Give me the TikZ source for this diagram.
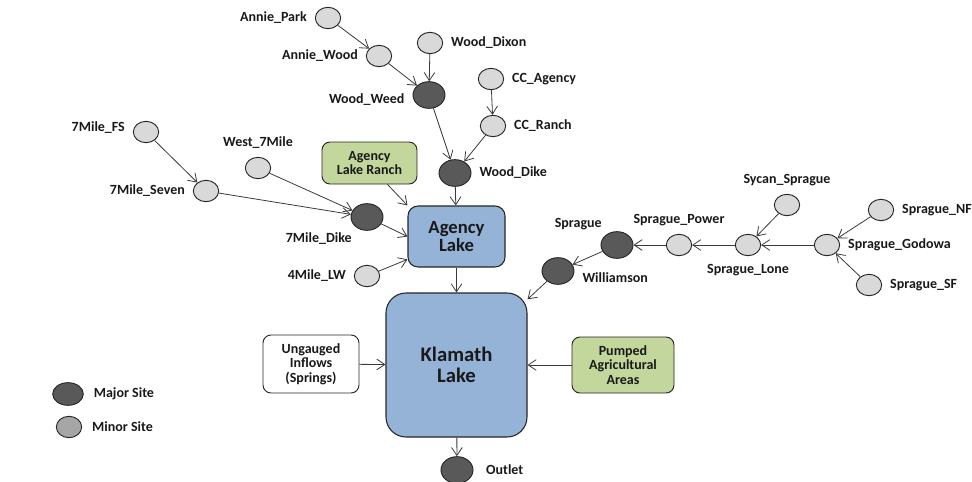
\documentclass[tikz,border=0pt]{standalone}
\usepackage{fontspec}
\setmainfont{Carlito}
\usepackage{xcolor}
\definecolor{MajorGray}{HTML}{595959}
\definecolor{MinorGray}{HTML}{D9D9D9}
\definecolor{KeyGray}{HTML}{A6A6A6}
\definecolor{EdgeGray}{HTML}{262626}
\definecolor{FlowGray}{HTML}{3A3A3A}
\definecolor{LakeBlue}{HTML}{95B3D7}
\definecolor{FarmGreen}{HTML}{C3D69B}
\usepackage{tikz}
\usetikzlibrary{arrows.meta, shapes.geometric}

\begin{document}
\begin{tikzpicture}[x=0.75pt, y=-0.75pt, label distance=2.5pt,
	every node/.style={font=\fontsize{10.5}{11}\selectfont\bfseries, text=black!90},
	major/.style={ellipse, draw=EdgeGray, fill=MajorGray, line width=0.7pt, minimum width=24pt, minimum height=20pt, inner sep=0pt},
	minor/.style={ellipse, draw=EdgeGray, fill=MinorGray, line width=0.7pt, minimum width=19pt, minimum height=16pt, inner sep=0pt},
	lakebox/.style={draw=EdgeGray, fill=LakeBlue, line width=0.8pt, align=center},
	inbox/.style={draw=EdgeGray, line width=0.7pt, rounded corners=6pt, align=center, minimum height=42pt},
	flow/.style={draw=FlowGray, line width=0.6pt, -{Straight Barb[length=6pt, width=8pt]}}]
	\useasboundingbox (0,0) rectangle (972,482);

	% lakes and boxes
	\node[lakebox, rounded corners=7.5pt, minimum width=72.75pt, minimum height=45.75pt, font=\fontsize{14}{14}\selectfont\bfseries] (agency) at (456.5,236.5) {Agency\\Lake};
	\node[lakebox, rounded corners=15pt, minimum width=105.75pt, minimum height=108pt, font=\fontsize{15.5}{16}\selectfont\bfseries] (klamath) at (456.5,365) {Klamath\\Lake};
	\node[inbox, fill=FarmGreen, minimum width=71.25pt, minimum height=31.5pt] (ranch) at (369.5,163) {Agency\\Lake Ranch};
	\node[inbox, fill=white, minimum width=72pt, minimum height=43.5pt] (ungauged) at (311,364) {Ungauged\\Inflows\\(Springs)};
	\node[inbox, fill=FarmGreen, minimum width=76.5pt] (pumped) at (623,365) {Pumped\\Agricultural\\Areas};

	% Wood River sites
	\node[minor, label=left:Annie\_Park] (anniepark) at (328,18) {};
	\node[minor, label=left:Annie\_Wood] (anniewood) at (379,56) {};
	\node[minor, label=right:Wood\_Dixon] (wooddixon) at (430,43) {};
	\node[major, label={[yshift=-3.5pt]left:Wood\_Weed}] (woodweed) at (429,95) {};
	\node[minor, label=right:CC\_Agency] (ccagency) at (491,79) {};
	\node[minor, label=right:CC\_Ranch] (ccranch) at (493,126) {};
	\node[major, label=right:Wood\_Dike] (wooddike) at (455,173) {};

	% Sevenmile sites
	\node[minor, label={[yshift=3.5pt]left:7Mile\_FS}] (sevenfs) at (146,132) {};
	\node[minor, label=left:7Mile\_Seven] (sevenseven) at (206,191) {};
	\node[minor, label=above:West\_7Mile] (westseven) at (258,168) {};
	\node[major, label={[label distance=0pt]below left:7Mile\_Dike}] (sevendike) at (367,217) {};
	\node[minor, label=left:4Mile\_LW] (fourmile) at (367,276) {};

	% Sprague sites
	\node[major, label={[label distance=0pt]above left:Sprague}] (sprague) at (617,245) {};
	\node[major, label={[yshift=-5pt]right:Williamson}] (williamson) at (558,271) {};
	\node[minor, label=above:Sprague\_Power] (spraguepower) at (679,245) {};
	\node[minor, label=below:Sprague\_Lone] (spraguelone) at (748,245) {};
	\node[minor, label=above:Sycan\_Sprague] (sycan) at (787,205) {};
	\node[minor, label=right:Sprague\_Godowa] (godowa) at (827,245) {};
	\node[minor, label=right:Sprague\_NF] (spraguenf) at (881,210) {};
	\node[minor, label=right:Sprague\_SF] (spraguesf) at (869,285) {};

	\node[major, label={[label distance=6pt]right:Outlet}] (outlet) at (457,470) {};

	% key
	\node[major, minimum width=23pt, minimum height=17pt, label={[label distance=4pt]right:Major Site}] (keymajor) at (68,394) {};
	\node[minor, fill=KeyGray, label={[label distance=4pt]right:Minor Site}] (keyminor) at (69,427) {};

	% flows
	\draw[flow] (anniepark) -- (anniewood);
	\draw[flow] (anniewood) -- (woodweed);
	\draw[flow] (wooddixon) -- (woodweed);
	\draw[flow] (ccagency) -- (ccranch);
	\draw[flow] (woodweed) -- (wooddike);
	\draw[flow] (ccranch) -- (wooddike);
	\draw[flow] (wooddike) -- (agency);
	\draw[flow] (ranch.-50) -- (agency.north west);
	\draw[flow] (sevenfs) -- (sevenseven);
	\draw[flow] (sevenseven) -- (sevendike);
	\draw[flow] (westseven) -- (sevendike);
	\draw[flow] (sevendike) -- (agency.west);
	\draw[flow] (fourmile) -- (agency.205);
	\draw[flow] (agency) -- (klamath);
	\draw[flow] (spraguenf) -- (godowa);
	\draw[flow] (spraguesf) -- (godowa);
	\draw[flow] (godowa) -- (spraguelone);
	\draw[flow] (sycan) -- (spraguelone);
	\draw[flow] (spraguelone) -- (spraguepower);
	\draw[flow] (spraguepower) -- (sprague);
	\draw[flow] (sprague) -- (williamson);
	\draw[flow] (williamson) -- (klamath);
	\draw[flow] (ungauged) -- (klamath);
	\draw[flow] (pumped) -- (klamath);
	\draw[flow] (klamath) -- (outlet);
\end{tikzpicture}
\end{document}
